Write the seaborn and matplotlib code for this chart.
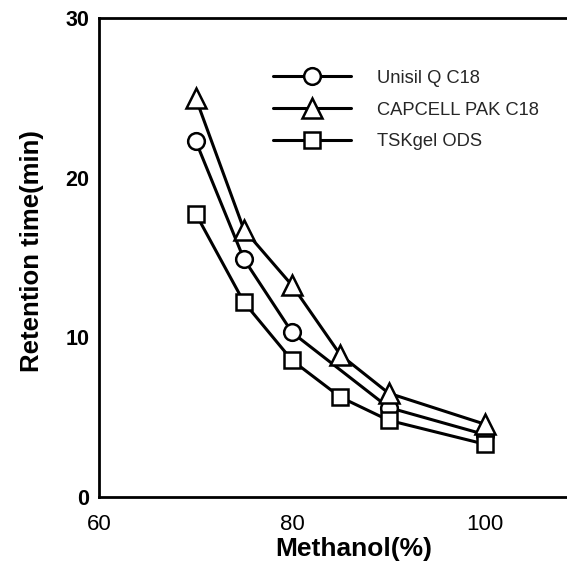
import matplotlib
matplotlib.use("Agg")
import matplotlib.pyplot as plt
import seaborn as sns
import pandas as pd
from matplotlib.ticker import MultipleLocator, FixedLocator

# Data
series_names = ["Unisil Q C18", "CAPCELL PAK C18", "TSKgel ODS"]
unisil_x = [70, 75, 80, 90, 100]
unisil_y = [22.3, 14.9, 10.3, 5.6, 3.9]
capcell_x = [70, 75, 80, 85, 90, 100]
capcell_y = [25.0, 16.75, 13.25, 8.9, 6.5, 4.55]
tskgel_x = [70, 75, 80, 85, 90, 100]
tskgel_y = [17.75, 12.2, 8.55, 6.25, 4.8, 3.3]
x_ticks = [60, 80, 100]
y_ticks = [0, 10, 20, 30]

rows = []
for name, xs, ys in zip(series_names, [unisil_x, capcell_x, tskgel_x],
                        [unisil_y, capcell_y, tskgel_y]):
    for x, y in zip(xs, ys):
        rows.append({"Methanol": x, "Retention": y, "Column": name})
df = pd.DataFrame(rows)

sns.set_theme(style="white")
plt.rcParams["font.family"] = ["Liberation Sans", "DejaVu Sans"]

fig = plt.figure(figsize=(5.67, 5.64), dpi=100)
ax = fig.add_axes([0.175, 0.119, 0.825, 0.849])

markers = {"Unisil Q C18": "o", "CAPCELL PAK C18": "^", "TSKgel ODS": "s"}
sns.lineplot(data=df, x="Methanol", y="Retention", style="Column",
             style_order=series_names, markers=markers, dashes=False,
             color="black", linewidth=2.2, markersize=12,
             markerfacecolor="white", markeredgecolor="black",
             markeredgewidth=1.8, legend=False, ax=ax)

lines = ax.get_lines()[:3]
lines[1].set_markersize(14)
lines[2].set_markersize(12)

ax.set_xlim(60, 108.5)
ax.set_ylim(0, 30)
ax.xaxis.set_major_locator(FixedLocator(x_ticks))
ax.xaxis.set_minor_locator(MultipleLocator(10))
ax.yaxis.set_major_locator(FixedLocator(y_ticks))
ax.tick_params(axis="both", which="both", direction="in", length=4, width=1.5,
               colors="black")
ax.tick_params(axis="x", which="major", pad=12, labelsize=16)
ax.tick_params(axis="y", which="major", pad=7, labelsize=15.5)
for lbl in ax.get_yticklabels():
    lbl.set_fontweight("bold")

for side in ["left", "bottom", "top"]:
    ax.spines[side].set_visible(True)
    ax.spines[side].set_color("black")
    ax.spines[side].set_linewidth(2)
ax.spines["right"].set_visible(False)

ax.set_xlabel("Methanol(%)", fontsize=19, fontweight="bold", color="black")
ax.xaxis.set_label_coords(0.545, -0.083)
ax.set_ylabel("Retention time(min)", fontsize=18.5, fontweight="bold", color="black")
ax.yaxis.set_label_coords(-0.118, 0.513)

leg = ax.legend(handles=lines, labels=series_names, loc="upper left",
                bbox_to_anchor=(0.355, 0.907), frameon=False, fontsize=13.2,
                handlelength=4.3, handletextpad=1.4, labelspacing=0.8,
                borderaxespad=0)

fig.savefig("out.png", dpi=100)
